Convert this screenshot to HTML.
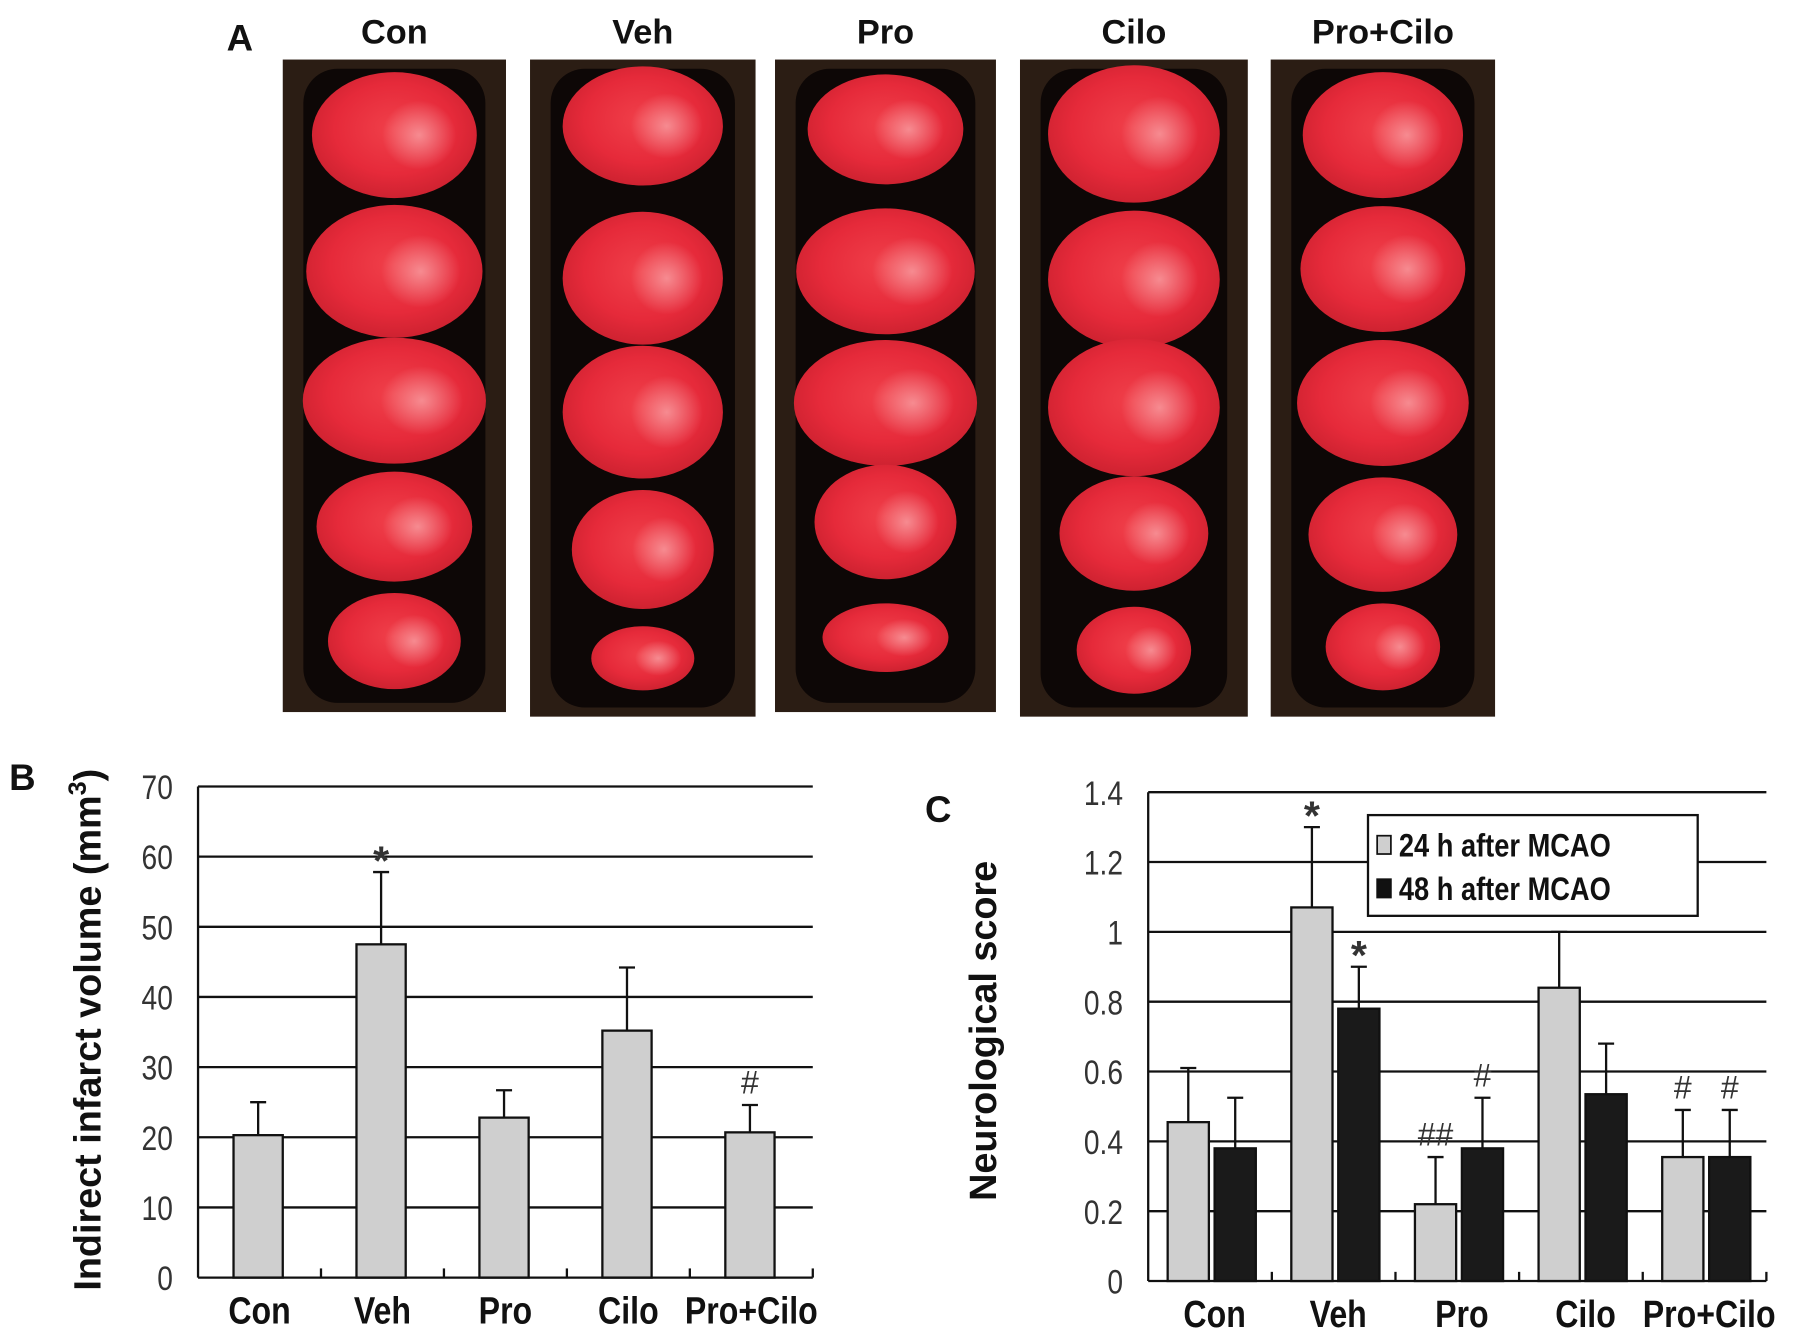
<!DOCTYPE html>
<html><head><meta charset="utf-8"><style>
html,body{margin:0;padding:0;background:#fff;}
svg{display:block;}
text{font-family:"Liberation Sans",Arial,sans-serif;}
</style></head><body>
<svg id="fig" width="1795" height="1344" viewBox="0 0 1568 1174" xmlns="http://www.w3.org/2000/svg">
<defs>
<radialGradient id="brain" cx="50%" cy="45%" r="60%">
<stop offset="0" stop-color="#f0404a"/><stop offset="0.6" stop-color="#e62a3a"/><stop offset="1" stop-color="#c8202e"/>
</radialGradient>
<radialGradient id="pale" cx="50%" cy="50%" r="50%">
<stop offset="0" stop-color="#ffd0d0" stop-opacity="0.55"/><stop offset="1" stop-color="#ffd0d0" stop-opacity="0"/>
</radialGradient>
</defs>
<g id="panelA"></g>
<g id="chartB"></g>
<g id="chartC"></g>
</svg>
<script>
const NS="http://www.w3.org/2000/svg";
// ---- Chart data ----
const categories=["Con","Veh","Pro","Cilo","Pro+Cilo"];
const volumeValues=[20.3,47.5,22.8,35.2,20.7];
const volumeErrors=[4.7,10.3,3.9,9.0,3.9];
const volumeMarks=["","*","","","#"];
const volumeTicks=[0,10,20,30,40,50,60,70];
const score24=[0.455,1.07,0.22,0.84,0.355];
const score24Err=[0.155,0.23,0.135,0.16,0.135];
const score24Marks=["","*","##","","#"];
const score48=[0.38,0.78,0.38,0.535,0.355];
const score48Err=[0.145,0.12,0.145,0.145,0.135];
const score48Marks=["","*","#","","#"];
const scoreTicks=[0,0.2,0.4,0.6,0.8,1,1.2,1.4];
const legendLabels=["24 h after MCAO","48 h after MCAO"];

function mk(tag,attrs,parent,txt){const e=document.createElementNS(NS,tag);for(const k in attrs)e.setAttribute(k,attrs[k]);if(txt!==undefined)e.textContent=txt;parent.appendChild(e);return e;}
function cond(el,x,y,sx){el.setAttribute('transform',`translate(${x},${y}) scale(${sx},1)`);}

// ---- Panel A ----
const A=document.getElementById('panelA');
let t=mk('text',{x:198,y:44,'font-size':32,'font-weight':'bold',fill:'#111'},A,'A');


const photoGroups=["Con","Veh","Pro","Cilo","Pro+Cilo"];
const photoBoxes=[[247,52,195,570],[463,52,197,574],[677,52,193,570],[891,52,199,574],[1110,52,196,574]];
const slices=[
 [[118,72,55],[237,77,58],[350,80,55],[460,68,48],[560,58,42]],
 [[110,70,52],[243,70,58],[360,70,58],[480,62,52],[575,45,28]],
 [[113,68,48],[237,78,55],[352,80,55],[456,62,50],[557,55,30]],
 [[117,75,60],[244,75,60],[356,75,60],[466,65,50],[568,50,38]],
 [[118,70,55],[235,72,55],[352,75,55],[467,65,50],[565,50,38]]];
photoBoxes.forEach((b,i)=>{
  const g=mk('g',{},A);
  
  
  mk('rect',{x:b[0],y:b[1],width:b[2],height:b[3],fill:'#2b1d14'},g);
  mk('rect',{x:b[0]+18,y:b[1]+8,width:b[2]-36,height:b[3]-16,fill:'#0d0706',rx:30},g);
  const cx=b[0]+b[2]/2;
  slices[i].forEach(s=>{
    const sl=mk('ellipse',{cx:cx,cy:s[0],rx:s[1],ry:s[2],fill:'url(#brain)'},g);
    
    
    mk('ellipse',{cx:cx+s[1]*0.3,cy:s[0],rx:s[1]*0.45,ry:s[2]*0.55,fill:'url(#pale)'},g);
  });
  const lb=mk('text',{x:cx,y:38,'font-size':30,'font-weight':'bold','text-anchor':'middle',fill:'#111'},A,photoGroups[i]);
  
  
});

// ---- generic bar chart ----
function chart(G,o){
  const yS=v=>o.y0-(v-o.ymin)/(o.ymax-o.ymin)*(o.y0-o.y1);
  const cw=(o.x1-o.x0)/categories.length;
  o.ticks.forEach(v=>{
    if(v!==o.ymin){const l=mk('line',{x1:o.x0,x2:o.x1,y1:yS(v),y2:yS(v),stroke:'#111','stroke-width':2},G);
    
    }
    const tl=mk('text',{x:0,y:0,'font-size':30,'text-anchor':'end',fill:'#333'},G,String(v));
    cond(tl,o.x0-22,yS(v)+11,0.82);
    
    
  });
  const ax=mk('line',{x1:o.x0,x2:o.x0,y1:o.y1,y2:o.y0,stroke:'#111','stroke-width':2},G);
  
  
  const xa=mk('line',{x1:o.x0,x2:o.x1,y1:o.y0,y2:o.y0,stroke:'#111','stroke-width':2},G);
  
  
  categories.forEach((c,i)=>{
    const tk=mk('line',{x1:o.x0+cw*(i+1),x2:o.x0+cw*(i+1),y1:o.y0,y2:o.y0-8,stroke:'#111','stroke-width':2},G);
    
    
    const cl=mk('text',{x:0,y:0,'font-size':33,'font-weight':'bold','text-anchor':'middle',fill:'#111'},G,c);
    cond(cl,o.x0+cw*(i+0.5)+(o.labelShift||0),o.y0+40,0.85);
    
    
    o.series.forEach((s,k)=>{
      const bx=o.x0+cw*i+o.off[k];
      const top=yS(s.vals[i]);
      const r=mk('rect',{x:bx,y:top,width:o.bw,height:o.y0-top,fill:s.fill,stroke:'#111','stroke-width':2},G);
      
      
      const ex=bx+o.bw/2, et=yS(s.vals[i]+s.errs[i]);
      const e=mk('path',{d:`M${ex},${top}V${et}M${ex-7},${et}H${ex+7}`,stroke:'#111','stroke-width':2,fill:'none'},G);
      
      
      if(s.marks[i]){const star=s.marks[i]==='*';const m=mk('text',{x:ex,y:et-(star?-2:10),'font-size':star?36:28,'font-weight':star?'bold':'normal','text-anchor':'middle',fill:'#333','font-family':'Liberation Serif'},G,s.marks[i]);
      
      }
    });
  });
  const yt=mk('text',{x:0,y:0,'font-size':o.titleSize,'font-weight':'bold','text-anchor':'middle',fill:'#111',transform:`translate(${o.titleX},${(o.y0+o.y1)/2+o.titleDy}) rotate(-90)`},G);
  
  
  yt.innerHTML=o.title;
  const pl=mk('text',{x:o.panelX,y:o.panelY,'font-size':32,'font-weight':'bold',fill:'#111'},G,o.panel);
  
  
}
chart(document.getElementById('chartB'),{x0:173,x1:710,y0:1116,y1:687,ymin:0,ymax:70,ticks:volumeTicks,bw:43,off:[31],
  series:[{name:'volume',vals:volumeValues,errs:volumeErrors,marks:volumeMarks,fill:'#cfcfcf'}],
  title:'Indirect infarct volume (mm<tspan dy="-13" font-size="22">3</tspan><tspan dy="13">)</tspan>',titleX:88,titleSize:33,titleDy:-2,panel:'B',panelX:8,panelY:690});
chart(document.getElementById('chartC'),{x0:1003,x1:1543,y0:1119,y1:692,ymin:0,ymax:1.4,ticks:scoreTicks,bw:36,off:[17,58],labelShift:4,
  series:[{name:'24h',vals:score24,errs:score24Err,marks:score24Marks,fill:'#cfcfcf'},{name:'48h',vals:score48,errs:score48Err,marks:score48Marks,fill:'#1a1a1a'}],
  title:'Neurological score',titleX:870,titleSize:33,titleDy:-5,panel:'C',panelX:808,panelY:718});
// legend
const C=document.getElementById('chartC');
const lg=mk('g',{},C);


mk('rect',{x:1195,y:712,width:288,height:88,fill:'#fff',stroke:'#111','stroke-width':2},lg);
legendLabels.forEach((l,i)=>{
  const y=738+i*38;
  const sw=mk('rect',{x:1203,y:y-8,width:12,height:16,fill:i?'#111':'#cfcfcf',stroke:'#111','stroke-width':1.5},lg);
  
  
  const tx=mk('text',{x:0,y:0,'font-size':28,'font-weight':'bold',fill:'#111'},lg,l);
  cond(tx,1222,y+10,0.85);
  
  
});
</script>
</body></html>
